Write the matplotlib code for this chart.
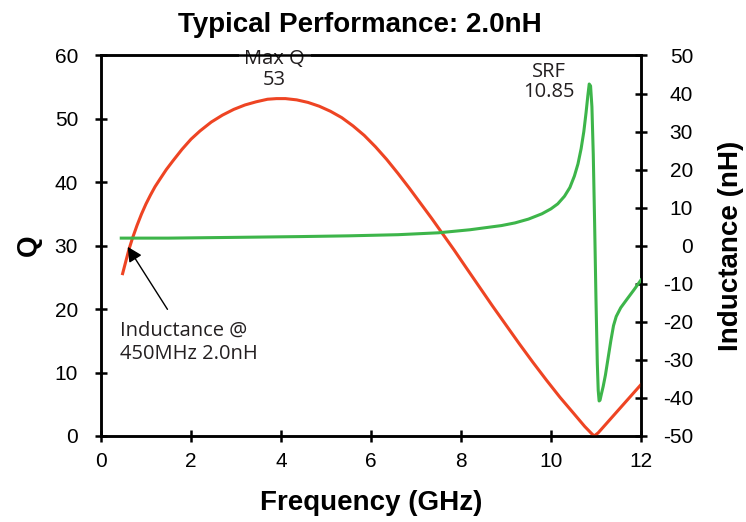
import matplotlib.pyplot as plt

plt.rcParams['axes.unicode_minus'] = False

# Q curve (left axis)
freq_q = [0.48, 0.55, 0.62, 0.7, 0.8, 0.9, 1.0, 1.1, 1.2, 1.31, 1.45, 1.6, 1.8, 2.0,
          2.2, 2.45, 2.7, 2.95, 3.2, 3.45, 3.7, 3.9, 4.1, 4.35, 4.6, 4.85, 5.1, 5.35,
          5.6, 5.85, 6.1, 6.35, 6.6, 6.85, 7.1, 7.35, 7.6, 7.85, 8.1, 8.4, 8.7, 9.0,
          9.3, 9.6, 9.9, 10.2, 10.5, 10.75, 10.9, 10.96, 11.05, 11.2, 11.4, 11.6,
          11.8, 12.0]
q = [25.6, 27.5, 29.4, 31.2, 33.2, 35.0, 36.6, 38.0, 39.3, 40.5, 42.0, 43.4, 45.2, 46.8,
     48.1, 49.5, 50.6, 51.5, 52.2, 52.7, 53.1, 53.2, 53.2, 53.0, 52.6, 52.0, 51.2, 50.2,
     48.9, 47.4, 45.6, 43.6, 41.4, 39.1, 36.7, 34.3, 31.8, 29.3, 26.7, 23.6, 20.5, 17.5,
     14.5, 11.6, 8.8, 6.1, 3.6, 1.5, 0.4, 0.0, 0.5, 1.7, 3.3, 4.9, 6.5, 8.1]

# inductance curve (right axis)
freq_l = [0.45, 1.5, 3.0, 4.4, 5.5, 6.6, 7.5, 8.2, 8.9, 9.2, 9.5, 9.8, 10.0, 10.15,
          10.3, 10.42, 10.52, 10.6, 10.67, 10.73, 10.78, 10.82, 10.85, 10.88, 10.91,
          10.94, 10.97, 11.0, 11.03, 11.05, 11.07, 11.09, 11.12, 11.16, 11.21, 11.27,
          11.33, 11.39, 11.45, 11.55, 11.68, 11.85, 12.0]
ind = [2.0, 2.0, 2.2, 2.4, 2.6, 2.9, 3.4, 4.2, 5.3, 6.0, 7.0, 8.4, 9.7, 11.0,
       13.0, 15.3, 18.3, 21.5, 25.5, 30.0, 35.0, 39.5, 42.5, 42.0, 36.5,
       24.0, 6.0, -14.0, -31.0, -38.0, -40.8, -40.6, -39.0, -37.0, -34.0, -29.5,
       -25.0, -21.0, -18.6, -16.3, -14.2, -11.5, -9.0]

x_ticks = [0, 2, 4, 6, 8, 10, 12]
q_ticks = [0, 10, 20, 30, 40, 50, 60]
l_ticks = [-50, -40, -30, -20, -10, 0, 10, 20, 30, 40, 50]

red = '#EE4423'
green = '#3DB54A'
ink = '#231F20'
tick_font = ['Liberation Sans Narrow', 'Liberation Sans', 'DejaVu Sans']
bold_font = ['Liberation Sans', 'DejaVu Sans']
note_font = ['Open Sans', 'DejaVu Sans']

fig = plt.figure(figsize=(7.46, 5.22), dpi=100)
ax = fig.add_axes([0.1354, 0.1648, 0.7238, 0.7289])
ax2 = ax.twinx()

ax.plot(freq_q, q, color=red, lw=2.2, zorder=3)
ax2.plot(freq_l, ind, color=green, lw=2.2, zorder=3)

ax.set_xlim(0, 12)
ax.set_ylim(0, 60)
ax2.set_ylim(-50, 50)
ax.set_xticks(x_ticks)
ax.set_yticks(q_ticks)
ax2.set_yticks(l_ticks)

for a in (ax, ax2):
    for s in a.spines.values():
        s.set_linewidth(1.8)
    for lab in a.get_xticklabels() + a.get_yticklabels():
        lab.set_family(tick_font)
        lab.set_fontsize(15)

ax.tick_params(axis='both', direction='inout', length=9, width=1.8)
ax.tick_params(axis='x', pad=7)
ax.tick_params(axis='y', pad=12)
ax2.tick_params(axis='y', direction='inout', length=9, width=1.8, pad=33)
for lab in ax2.get_yticklabels():
    lab.set_horizontalalignment('right')

ax.set_title('Typical Performance: 2.0nH', fontsize=20, fontweight='bold',
             family=bold_font, pad=17, x=0.48)
ax.set_xlabel('Frequency (GHz)', fontsize=20, fontweight='bold', family=bold_font, labelpad=14)
ax.set_ylabel('Q', fontsize=20, fontweight='bold', family=bold_font, labelpad=9)
ax2.set_ylabel('Inductance (nH)', fontsize=20, fontweight='bold', family=bold_font, labelpad=18)

# annotations
ax.text(3.86, 59.4, 'Max Q', ha='center', va='center', fontsize=14.5, family=note_font,
        color=ink, clip_on=False, zorder=5,
        bbox=dict(facecolor='white', edgecolor='none', pad=4))
ax.text(3.86, 56.1, '53', ha='center', va='center', fontsize=14.5, family=note_font,
        color=ink, zorder=5)
ax.text(9.95, 57.4, 'SRF', ha='center', va='center', fontsize=14.5, family=note_font,
        color=ink, zorder=5)
ax.text(9.95, 54.2, '10.85', ha='center', va='center', fontsize=14.5, family=note_font,
        color=ink, zorder=5)
ax.text(0.42, 14.8, 'Inductance @\n450MHz 2.0nH', ha='left', va='center', fontsize=14.5,
        family=note_font, color=ink, linespacing=1.25, zorder=5)
ax.annotate('', xy=(0.56, 30.2), xytext=(1.51, 19.6),
            arrowprops=dict(arrowstyle='-|>', color='black', lw=1, mutation_scale=22),
            zorder=6)

fig.savefig('out.png', dpi=100)
